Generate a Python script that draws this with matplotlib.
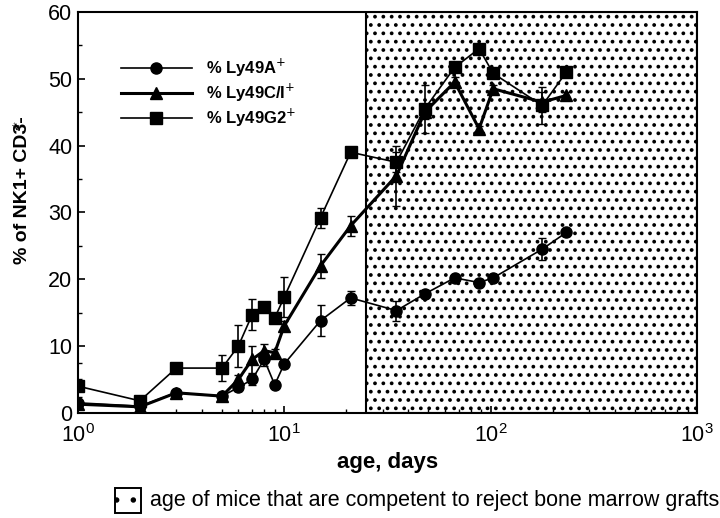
import matplotlib
matplotlib.use('Agg')
import matplotlib.pyplot as plt
from matplotlib.patches import Rectangle
from matplotlib.lines import Line2D
import numpy as np

plt.rcParams['font.family'] = ['Liberation Sans', 'DejaVu Sans']
plt.rcParams['hatch.linewidth'] = 1.5

days = [1, 2, 3, 5, 6, 7, 8, 9, 10, 15, 21, 35, 48, 67, 88, 103, 178, 233]

ly49a = [1.5, 1.0, 3.0, 2.5, 3.8, 5.0, 8.0, 4.2, 7.3, 13.8, 17.2, 15.3, 17.8, 20.2, 19.5, 20.2, 24.5, 27.0]
ly49a_err = [0.8, 0.3, 0.4, 0.4, 0.6, 0.8, 1.0, 0.5, 0.6, 2.3, 1.0, 1.5, 0.5, 0.5, 0.5, 0.5, 1.7, 0.5]

ly49ci = [1.3, 0.9, 3.0, 2.5, 5.0, 8.0, 9.3, 9.0, 13.0, 22.0, 28.0, 35.5, 45.0, 49.5, 42.5, 48.5, 46.5, 47.5]
ly49ci_err = [0.5, 0.3, 0.4, 0.4, 0.6, 2.0, 1.0, 0.6, 0.8, 1.8, 1.5, 4.5, 1.0, 0.8, 0.5, 0.6, 1.5, 0.5]

ly49g2 = [4.0, 1.8, 6.7, 6.7, 10.0, 14.7, 15.8, 14.2, 17.3, 29.2, 39.0, 37.5, 45.5, 51.7, 54.5, 50.8, 46.0, 51.0]
ly49g2_err = [3.4, 0.4, 0.4, 2.0, 3.2, 2.3, 0.6, 0.6, 3.0, 1.5, 0.5, 1.5, 3.6, 0.6, 0.6, 0.6, 2.8, 0.6]

competent_start = 25
competent_end = 1000

fig = plt.figure(figsize=(7.2, 5.18), dpi=100)
ax = fig.add_axes([0.108, 0.203, 0.86, 0.774])

ax.axvspan(competent_start, competent_end, facecolor='white', edgecolor='black',
           hatch='..', linewidth=1.5, zorder=0)

ax.errorbar(days, ly49a, yerr=ly49a_err, color='black', marker='o', ms=8, lw=1.2,
            capsize=3, elinewidth=1.2, zorder=3)
ax.errorbar(days, ly49ci, yerr=ly49ci_err, color='black', marker='^', ms=8, lw=2.2,
            capsize=3, elinewidth=1.2, zorder=3)
ax.errorbar(days, ly49g2, yerr=ly49g2_err, color='black', marker='s', ms=8, lw=1.2,
            capsize=3, elinewidth=1.2, zorder=3)

ax.set_xscale('log')
ax.set_xlim(1, 1000)
ax.set_ylim(0, 60)
ax.set_yticks(np.arange(0, 61, 10))
ax.set_yticks(np.arange(5, 60, 10), minor=True)
ax.tick_params(axis='both', which='major', labelsize=15.5, direction='in', length=5, width=1.2)
ax.tick_params(axis='both', which='minor', direction='in', length=3, width=1)
ax.tick_params(axis='x', pad=8)
ax.tick_params(axis='y', pad=4)
for s in ax.spines.values():
    s.set_linewidth(1.5)

ax.set_xlabel('age, days', fontsize=16, fontweight='bold', labelpad=4)
ax.set_ylabel('% of NK1+ CD3-', fontsize=14, fontweight='bold')
ax.yaxis.set_label_coords(-0.075, 0.555)
fig.text(0.024, 0.755, '#', fontsize=8, fontweight='bold', rotation=60, ha='center', va='center')

handles = [
    Line2D([], [], color='black', marker='o', ms=8, lw=1.2),
    Line2D([], [], color='black', marker='^', ms=8, lw=2.2),
    Line2D([], [], color='black', marker='s', ms=8, lw=1.2),
]
labels = ['% Ly49A$^{+}$', '% Ly49C/I$^{+}$', '% Ly49G2$^{+}$']
ax.legend(handles, labels, loc='upper left', bbox_to_anchor=(0.045, 0.925),
          frameon=False, prop={'weight': 'bold', 'size': 12},
          handlelength=4.3, handletextpad=0.8, labelspacing=0.15)

fig.patches.append(Rectangle((0.16, 0.01), 0.036, 0.047, transform=fig.transFigure,
                             facecolor='white', edgecolor='black', hatch='.', linewidth=1.4))
fig.text(0.208, 0.033, 'age of mice that are competent to reject bone marrow grafts',
         fontsize=15.5, va='center', ha='left')

fig.savefig('out.png', dpi=100)
